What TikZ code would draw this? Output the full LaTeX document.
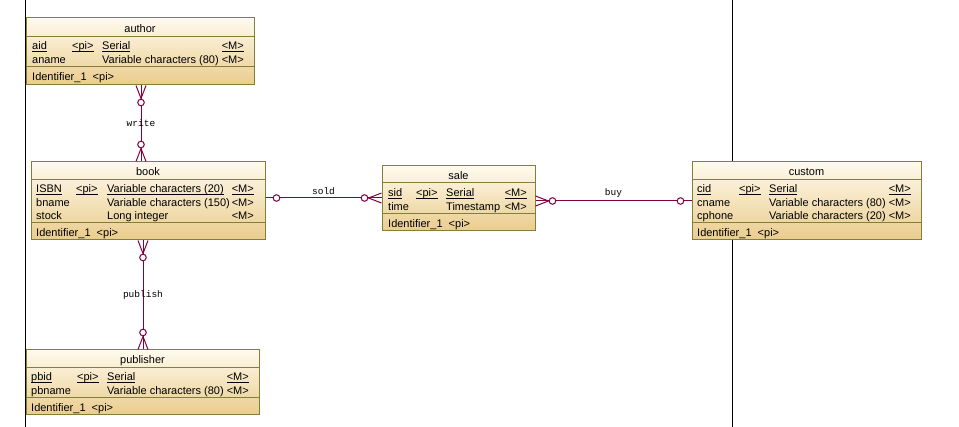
\documentclass[tikz,border=0pt]{standalone}
\usepackage{fontspec}
\setmainfont{Liberation Sans}
\newfontfamily\labelfont{Liberation Mono}
\usepackage{tikz}
\usetikzlibrary{calc}
\definecolor{pdedge}{RGB}{128,128,56}
\definecolor{pdtop}{RGB}{255,250,238}
\definecolor{pdbottom}{RGB}{234,204,140}
\definecolor{pdrel}{RGB}{128,0,64}
\newcommand{\keyfield}[1]{\underline{\smash{#1}}}
\tikzstyle{entity} = [rectangle, draw=pdedge, line width=1pt, top color=pdtop, bottom color=pdbottom, inner sep=0pt]
\tikzstyle{divider} = [draw=pdedge, line width=1pt]
\tikzstyle{field} = [anchor=west, inner sep=0pt, text height=10.5pt, text depth=0.5pt, font=\fontsize{11}{13}\selectfont]
\tikzstyle{flag} = [field, anchor=east]
\tikzstyle{entname} = [field, anchor=center]
\tikzstyle{rel} = [color=pdrel, line width=1pt]
\tikzstyle{rellabel} = [text=black, font=\labelfont\fontsize{9.5}{11}\selectfont, inner sep=1pt]
\tikzset{
  crowfoot/.pic={\draw[rel] (-5,0) -- (0,13) -- (5,0); \draw[rel, fill=white] (0,17) circle (3.3pt);},
  onemark/.pic={\draw[rel, fill=white] (0,11) circle (3.3pt);}
}

\begin{document}
\begin{tikzpicture}[x=1pt, y=-1pt]
\useasboundingbox (0,0) rectangle (959,427);
% page borders
\draw[line width=1pt] (25,0) -- (25,427);
\draw[line width=1pt] (732,0) -- (732,427);

% author
\node (author) [entity, minimum width=228pt, minimum height=67pt] at (140,51.5) {};
\draw[divider] (author.west |- 0,37) -- (author.east |- 0,37);
\draw[divider] (author.west |- 0,67) -- (author.east |- 0,67);
\node[entname] at (140,27.5) {author};
\node[field] at (32,45) {\keyfield{aid}};
\node[field] at (72,45) {\keyfield{<pi>}};
\node[field] at (102,45) {\keyfield{Serial}};
\node[flag] at (244,45) {\keyfield{<M>}};
\node[field] at (32,59) {aname};
\node[field] at (102,59) {Variable characters (80)};
\node[flag] at (244,59) {<M>};
\node[field] at (32,76) {Identifier\_1\ \ <pi>};

% book
\node (book) [entity, minimum width=234pt, minimum height=78pt] at (148,201) {};
\draw[divider] (book.west |- 0,180) -- (book.east |- 0,180);
\draw[divider] (book.west |- 0,223) -- (book.east |- 0,223);
\node[entname] at (148,171) {book};
\node[field] at (36,188) {\keyfield{ISBN}};
\node[field] at (76,188) {\keyfield{<pi>}};
\node[field] at (107,188) {\keyfield{Variable characters (20)}};
\node[flag] at (254,188) {\keyfield{<M>}};
\node[field] at (36,201.5) {bname};
\node[field] at (107,201.5) {Variable characters (150)};
\node[flag] at (254,201.5) {<M>};
\node[field] at (36,215) {stock};
\node[field] at (107,215) {Long integer};
\node[flag] at (254,215) {<M>};
\node[field] at (36,231.5) {Identifier\_1\ \ <pi>};

% publisher
\node (publisher) [entity, minimum width=233pt, minimum height=65pt] at (142.5,382.5) {};
\draw[divider] (publisher.west |- 0,368) -- (publisher.east |- 0,368);
\draw[divider] (publisher.west |- 0,398) -- (publisher.east |- 0,398);
\node[entname] at (142.5,359) {publisher};
\node[field] at (31,376) {\keyfield{pbid}};
\node[field] at (77,376) {\keyfield{<pi>}};
\node[field] at (107,376) {\keyfield{Serial}};
\node[flag] at (249,376) {\keyfield{<M>}};
\node[field] at (31,389.5) {pbname};
\node[field] at (107,389.5) {Variable characters (80)};
\node[flag] at (249,389.5) {<M>};
\node[field] at (31,406.5) {Identifier\_1\ \ <pi>};

% sale
\node (sale) [entity, minimum width=153pt, minimum height=65pt] at (458.5,198.5) {};
\draw[divider] (sale.west |- 0,183) -- (sale.east |- 0,183);
\draw[divider] (sale.west |- 0,214) -- (sale.east |- 0,214);
\node[entname] at (458.5,174.5) {sale};
\node[field] at (388,192) {\keyfield{sid}};
\node[field] at (416,192) {\keyfield{<pi>}};
\node[field] at (446,192) {\keyfield{Serial}};
\node[flag] at (527,192) {\keyfield{<M>}};
\node[field] at (388,206) {time};
\node[field] at (446,206) {Timestamp};
\node[flag] at (527,206) {<M>};
\node[field] at (388,222.5) {Identifier\_1\ \ <pi>};

% custom
\node (custom) [entity, minimum width=229pt, minimum height=78pt] at (806.5,201) {};
\draw[divider] (custom.west |- 0,180) -- (custom.east |- 0,180);
\draw[divider] (custom.west |- 0,223) -- (custom.east |- 0,223);
\node[entname] at (806.5,171) {custom};
\node[field] at (697,188) {\keyfield{cid}};
\node[field] at (739,188) {\keyfield{<pi>}};
\node[field] at (769,188) {\keyfield{Serial}};
\node[flag] at (911,188) {\keyfield{<M>}};
\node[field] at (697,201.5) {cname};
\node[field] at (769,201.5) {Variable characters (80)};
\node[flag] at (911,201.5) {<M>};
\node[field] at (697,215) {cphone};
\node[field] at (769,215) {Variable characters (20)};
\node[flag] at (911,215) {<M>};
\node[field] at (697,231.5) {Identifier\_1\ \ <pi>};

% relationships
\coordinate (writeA) at (author.south -| 141,0);
\coordinate (writeB) at (book.north -| 141,0);
\draw[rel] (writeA) -- (writeB) node[rellabel, midway] {write};
\path (writeA) pic {crowfoot};
\path (writeB) pic[rotate=180] {crowfoot};

\coordinate (pubA) at (book.south -| 143,0);
\coordinate (pubB) at (publisher.north -| 143,0);
\draw[rel] (pubA) -- (pubB) node[rellabel, midway] {publish};
\path (pubA) pic {crowfoot};
\path (pubB) pic[rotate=180] {crowfoot};

\coordinate (soldA) at (book.east |- 0,198);
\coordinate (soldB) at (sale.west |- 0,198);
\draw[rel] (soldA) -- (soldB) node[rellabel, midway, above=2pt] {sold};
\path (soldA) pic[rotate=90] {onemark};
\path (soldB) pic[rotate=-90] {crowfoot};

\coordinate (buyA) at (sale.east |- 0,201);
\coordinate (buyB) at (custom.west |- 0,201);
\draw[rel] (buyA) -- (buyB) node[rellabel, midway, above=2pt] {buy};
\path (buyA) pic[rotate=90] {crowfoot};
\path (buyB) pic[rotate=-90] {onemark};
\end{tikzpicture}
\end{document}
